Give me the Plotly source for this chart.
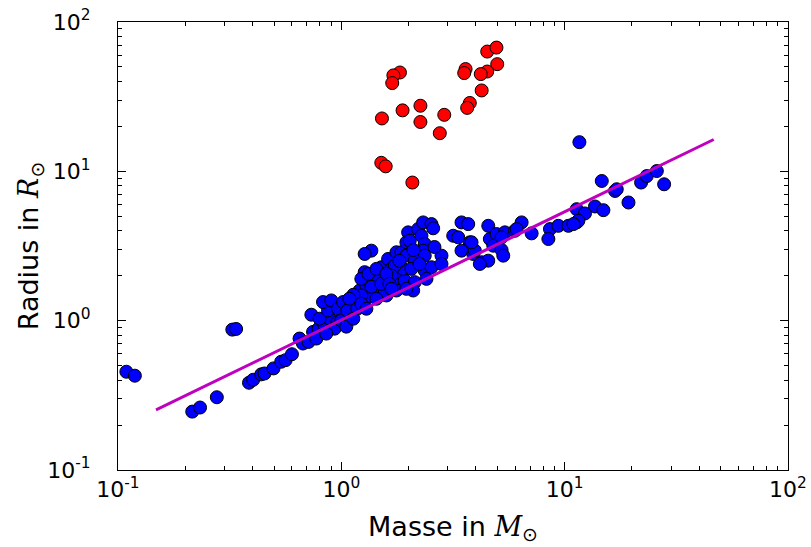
import plotly.graph_objects as go

# Main-sequence stars (blue): mass in M_sun, radius in R_sun
blue_mass = [0.109, 0.119, 0.325, 0.338, 0.215, 0.233, 0.277, 0.386, 0.403, 0.438,
             0.453, 0.497, 0.538, 0.563, 0.601, 0.650, 0.673, 0.714, 0.747, 0.791,
             0.841, 0.886, 0.734, 0.799, 0.872, 0.828, 0.902, 0.967, 0.960, 0.933,
             1.018, 1.053, 1.109, 1.147, 1.208, 1.295, 1.272, 1.363, 1.272, 1.387,
             1.461, 1.512, 1.620, 1.676, 1.765, 1.858, 1.956, 1.991, 1.956, 1.826,
             1.705, 1.564, 1.436, 1.317, 1.229, 1.858, 1.922, 1.765, 1.592, 1.000,
             2.208, 2.325, 2.533, 2.577, 2.025, 2.284, 2.363, 2.325, 2.363, 2.132,
             1.891, 1.734, 1.676, 2.132, 2.363, 2.533, 2.808, 2.808, 2.406, 2.097,
             1.564, 3.169, 3.337, 3.452, 3.700, 3.761, 3.452, 3.896, 4.245, 4.548,
             4.548, 4.624, 4.956, 5.399, 5.985, 6.416, 7.112, 4.789, 5.219, 5.310,
             4.171, 3.961, 3.828, 8.594, 8.453, 9.370, 10.39, 11.32, 11.32, 11.64,
             14.66, 16.81, 17.11, 19.31, 21.99, 23.32, 25.86, 27.88, 13.67, 14.91,
             12.33, 11.52, 10.94, 6.092, 5.219,
             1.064, 1.132, 1.179, 1.229, 1.322, 1.363, 1.436, 1.512, 1.592, 1.641,
             1.820, 2.060, 2.103, 2.238, 2.612, 1.086, 1.229, 0.773, 0.856, 1.053,
             1.132, 1.295, 1.436, 1.676, 1.956]
blue_radius = [0.455, 0.428, 0.871, 0.880, 0.246, 0.262, 0.307, 0.384, 0.402, 0.437,
               0.443, 0.479, 0.531, 0.544, 0.596, 0.759, 0.703, 0.721, 0.841, 0.884,
               0.931, 1.031, 1.096, 1.031, 1.171, 1.332, 1.366, 1.202, 0.980, 0.884,
               1.332, 1.031, 1.265, 1.402, 1.592, 1.719, 2.112, 2.943, 2.797, 1.905,
               1.857, 2.280, 2.590, 2.222, 2.871, 2.871, 2.725, 3.902, 3.347, 1.905,
               1.811, 1.634, 1.475, 1.439, 1.475, 2.112, 1.857, 1.592, 1.475, 1.005,
               4.105, 4.550, 4.433, 4.155, 3.430, 3.704, 3.262, 2.943, 2.725, 2.523,
               2.222, 2.337, 2.004, 1.811, 2.164, 2.280, 2.725, 2.399, 1.905, 1.592,
               1.553, 3.704, 3.614, 4.550, 4.433, 3.347, 2.943, 2.797, 2.462, 2.523,
               4.318, 3.522, 3.802, 3.902, 4.000, 4.550, 3.843, 3.177, 2.974, 2.725,
               2.399, 2.943, 3.347, 4.105, 3.522, 4.318, 4.318, 4.550, 5.580, 15.68,
               8.616, 7.390, 7.586, 6.184, 8.410, 9.300, 10.05, 8.190, 5.817, 5.495,
               5.224, 4.665, 4.433, 4.105, 3.614,
               1.166, 1.491, 1.202, 1.905, 2.057, 1.685, 2.222, 1.765, 2.057, 1.765,
               2.512, 2.222, 2.974, 2.399, 3.114, 1.402, 1.298, 0.759, 0.819, 0.912,
               1.031, 1.202, 1.402, 1.634, 1.634]

# Giants (red)
red_mass = [4.50, 4.95, 4.99, 4.50, 4.21, 3.60, 3.55, 4.25, 3.76, 3.66, 1.83,
            1.71, 1.69, 1.52, 1.88, 2.26, 2.26, 2.89, 2.76, 1.51, 1.58, 2.08]
red_radius = [63.4, 67.4, 52.2, 46.6, 44.8, 48.4, 45.5, 34.8, 28.7, 26.6, 45.9,
              43.9, 39.0, 22.6, 25.6, 27.5, 21.4, 23.9, 18.0, 11.4, 10.8, 8.41]

# Power-law fit R = c * M^k
fit_mass = [0.148, 46.5]
fit_coeff = 1.01
fit_exp = 0.725
fit_radius = [fit_coeff * m ** fit_exp for m in fit_mass]

tick_vals = [0.1, 1, 10, 100]
tick_text = ["10<sup>-1</sup>", "10<sup>0</sup>", "10<sup>1</sup>", "10<sup>2</sup>"]
minor_vals = [b * d for b in (0.1, 1, 10) for d in range(2, 10)]

fig = go.Figure()
fig.add_trace(go.Scatter(x=blue_mass, y=blue_radius, mode="markers",
                         marker=dict(size=13, color="#0000ff",
                                     line=dict(color="black", width=1)),
                         showlegend=False, hoverinfo="skip"))
fig.add_trace(go.Scatter(x=red_mass, y=red_radius, mode="markers",
                         marker=dict(size=13, color="#ff0000",
                                     line=dict(color="black", width=1)),
                         showlegend=False, hoverinfo="skip"))
fig.add_trace(go.Scatter(x=fit_mass, y=fit_radius, mode="lines",
                         line=dict(color="#bf00bf", width=3),
                         showlegend=False, hoverinfo="skip"))

axis_common = dict(
    type="log", showgrid=False, zeroline=False,
    showline=True, linecolor="black", linewidth=1, mirror="allticks",
    ticks="inside", ticklen=8, tickwidth=1, tickcolor="black",
    tickmode="array", tickvals=tick_vals, ticktext=tick_text,
    tickfont=dict(family="DejaVu Sans", size=22, color="black"),
    ticklabeloverflow="allow",
    minor=dict(tickmode="array", tickvals=minor_vals, ticks="inside",
               ticklen=4, tickcolor="black", showgrid=False),
)

fig.update_xaxes(range=[-1, 2], ticklabelstandoff=0,
                 title=dict(text='Masse in <span style="font-family:DejaVu Serif"><i>M</i></span><sub>⊙</sub>',
                            font=dict(family="DejaVu Sans", size=27, color="black"),
                            standoff=15),
                 **axis_common)
fig.update_yaxes(range=[-1, 2], ticklabelstandoff=22,
                 title=dict(text='Radius in <span style="font-family:DejaVu Serif"><i>R</i></span><sub>⊙</sub>',
                            font=dict(family="DejaVu Sans", size=27, color="black"),
                            standoff=0),
                 **axis_common)

fig.update_layout(width=811, height=547,
                  margin=dict(l=118, r=23, t=22, b=77, autoexpand=False),
                  paper_bgcolor="white", plot_bgcolor="white",
                  font=dict(family="DejaVu Sans", color="black"))

# remove the default page margin so the figure sits at the window origin
fig.write_html("out.html", config={"displayModeBar": False},
               post_script="document.body.style.margin='0';document.body.style.overflow='hidden';")
